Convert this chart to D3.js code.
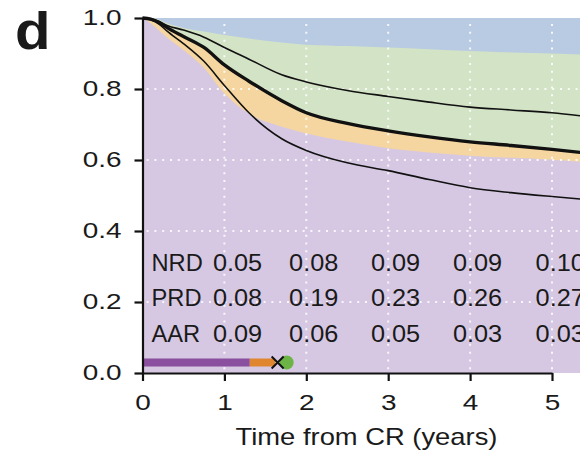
<!DOCTYPE html>
<html>
<head>
<meta charset="utf-8">
<script src="https://cdn.jsdelivr.net/npm/d3@7"></script>
<style>
  body { margin: 0; background: #fff; }
  text { font-family: "Liberation Sans", Arial, Helvetica, sans-serif; fill: #1a1a1a; }
</style>
</head>
<body>
<div id="vis"></div>
<script>
//###############################################################
// Stacked state probabilities after CR (panel d)
//###############################################################
const FRAME_WIDTH = 580;
const FRAME_HEIGHT = 454;

// time points (years from CR)
const TIMES = [0, 0.1, 0.2, 0.3, 0.5, 0.75, 1, 1.3, 1.7, 2, 2.5, 3, 3.5, 4, 4.5, 5, 5.4];

// boundary between blue (top) and green bands
const BLUE_GREEN = [1.0, 1.0, 0.995, 0.985, 0.972, 0.962, 0.952, 0.942, 0.931, 0.925, 0.921, 0.917, 0.912, 0.907, 0.903, 0.900, 0.897];
// thick black curve = boundary between green and orange
const THICK_LINE = [1.0, 0.997, 0.988, 0.973, 0.948, 0.917, 0.868, 0.822, 0.767, 0.733, 0.703, 0.682, 0.665, 0.651, 0.641, 0.630, 0.620];
// boundary between orange and purple
const ORANGE_PURPLE = [1.0, 0.985, 0.965, 0.945, 0.91, 0.86, 0.787, 0.73, 0.694, 0.675, 0.652, 0.633, 0.621, 0.612, 0.606, 0.601, 0.594];
// thin upper curve
const THIN_UPPER = [1.0, 0.998, 0.99, 0.979, 0.966, 0.946, 0.917, 0.884, 0.84, 0.82, 0.796, 0.779, 0.763, 0.749, 0.741, 0.733, 0.723];
// thin lower curve
const THIN_LOWER = [1.0, 0.995, 0.983, 0.963, 0.928, 0.878, 0.81, 0.733, 0.66, 0.627, 0.592, 0.57, 0.545, 0.522, 0.508, 0.497, 0.489];

// table printed inside the plot
const ROW_LABELS = ["NRD", "PRD", "AAR"];
const NRD = [0.05, 0.08, 0.09, 0.09, 0.10];
const PRD = [0.08, 0.19, 0.23, 0.26, 0.27];
const AAR = [0.09, 0.06, 0.05, 0.03, 0.03];

const X_TICKS = [0, 1, 2, 3, 4, 5];
const Y_TICKS = [0, 0.2, 0.4, 0.6, 0.8, 1.0];
const GRID_X = [1, 2, 3, 4, 5];
const GRID_Y = [0.2, 0.4, 0.6, 0.8];

// timeline at the bottom (years): purple segment end, orange segment end, cross, dot
const TL_PURPLE_END = 1.31;
const TL_ORANGE_END = 1.62;
const TL_CROSS = 1.65;
const TL_DOT = 1.76;

const COLORS = {
  blue: "#b9cbe3",
  green: "#d3e3c6",
  orange: "#f5d6a1",
  purple: "#d6c8e3",
  barPurple: "#8a4f9e",
  barOrange: "#e0862e",
  dot: "#6cb445"
};

const FRAME = d3.select("#vis")
  .append("svg")
    .attr("width", FRAME_WIDTH)
    .attr("height", FRAME_HEIGHT);

const X_SCALE = d3.scaleLinear().domain([0, 5]).range([142.5, 552]);
const Y_SCALE = d3.scaleLinear().domain([0, 1]).range([373, 18]);

// helper: text that is a bit wider than the font draws it
function wideText(parent, x, y, str, size, sx, anchor, weight) {
  return parent.append("text")
    .attr("transform", `translate(${x},${y}) scale(${sx},1)`)
    .attr("text-anchor", anchor || "start")
    .attr("font-size", size + "px")
    .attr("font-weight", weight || "normal")
    .text(str);
}

const rows = TIMES.map((t, i) => ({
  t: t, bg: BLUE_GREEN[i], thick: THICK_LINE[i], op: ORANGE_PURPLE[i],
  up: THIN_UPPER[i], low: THIN_LOWER[i]
}));

function band(key) {
  return d3.area()
    .x(d => X_SCALE(d.t))
    .y0(Y_SCALE(0))
    .y1(d => (key == null ? Y_SCALE(1) : Y_SCALE(d[key])))
    .curve(d3.curveMonotoneX);
}

// stacked bands, drawn from the back
FRAME.append("path").datum(rows).attr("d", band(null)).attr("fill", COLORS.blue);
FRAME.append("path").datum(rows).attr("d", band("bg")).attr("fill", COLORS.green);
FRAME.append("path").datum(rows).attr("d", band("thick")).attr("fill", COLORS.orange);
FRAME.append("path").datum(rows).attr("d", band("op")).attr("fill", COLORS.purple);

// dotted white grid
const grid = FRAME.append("g")
  .attr("stroke", "#ffffff")
  .attr("stroke-opacity", 0.85)
  .attr("stroke-width", 2)
  .attr("stroke-dasharray", "2,5.8");

grid.selectAll(".gx").data(GRID_X).enter().append("line")
  .attr("x1", d => X_SCALE(d)).attr("x2", d => X_SCALE(d))
  .attr("y1", Y_SCALE(0.983)).attr("y2", Y_SCALE(0.005));

grid.selectAll(".gy").data(GRID_Y).enter().append("line")
  .attr("x1", X_SCALE(0.05)).attr("x2", FRAME_WIDTH)
  .attr("y1", d => Y_SCALE(d)).attr("y2", d => Y_SCALE(d));

// black curves
function curve(key) {
  return d3.line()
    .x(d => X_SCALE(d.t))
    .y(d => Y_SCALE(d[key]))
    .curve(d3.curveMonotoneX);
}

FRAME.append("path").datum(rows).attr("d", curve("up"))
  .attr("fill", "none").attr("stroke", "#111").attr("stroke-width", 1.6);
FRAME.append("path").datum(rows).attr("d", curve("low"))
  .attr("fill", "none").attr("stroke", "#111").attr("stroke-width", 1.6);
FRAME.append("path").datum(rows).attr("d", curve("thick"))
  .attr("fill", "none").attr("stroke", "#111").attr("stroke-width", 3.4);

// timeline bar
const TL_Y = 362.5;
FRAME.append("line")
  .attr("x1", X_SCALE(0)).attr("x2", X_SCALE(TL_PURPLE_END))
  .attr("y1", TL_Y).attr("y2", TL_Y)
  .attr("stroke", COLORS.barPurple).attr("stroke-width", 8);
FRAME.append("line")
  .attr("x1", X_SCALE(TL_PURPLE_END)).attr("x2", X_SCALE(TL_ORANGE_END))
  .attr("y1", TL_Y).attr("y2", TL_Y)
  .attr("stroke", COLORS.barOrange).attr("stroke-width", 8);
FRAME.append("circle")
  .attr("cx", X_SCALE(TL_DOT)).attr("cy", TL_Y).attr("r", 7)
  .attr("fill", COLORS.dot);
const cx = X_SCALE(TL_CROSS);
FRAME.append("path")
  .attr("d", `M${cx - 6},${TL_Y - 6}L${cx + 6},${TL_Y + 6}M${cx - 6},${TL_Y + 6}L${cx + 6},${TL_Y - 6}`)
  .attr("stroke", "#111").attr("stroke-width", 2).attr("fill", "none");

// axes
const TICK_SX = 1.27;

const yAxis = FRAME.append("g")
  .attr("transform", `translate(${X_SCALE(0)},0)`)
  .call(d3.axisLeft(Y_SCALE).tickValues(Y_TICKS).tickFormat(d3.format(".1f"))
    .tickSize(8).tickSizeOuter(0));

const xAxis = FRAME.append("g")
  .attr("transform", `translate(0,${Y_SCALE(0)})`)
  .call(d3.axisBottom(X_SCALE).tickValues(X_TICKS).tickFormat(d3.format("d"))
    .tickSize(8).tickSizeOuter(0));

[yAxis, xAxis].forEach(ax => {
  ax.select(".domain").attr("stroke", "#111").attr("stroke-width", 2.2);
  ax.selectAll(".tick line").attr("stroke", "#111").attr("stroke-width", 2.2);
  ax.selectAll(".tick text")
    .attr("font-family", '"Liberation Sans", Arial, sans-serif')
    .attr("font-size", 22)
    .attr("fill", "#1a1a1a");
});

yAxis.selectAll(".tick text")
  .attr("x", -21 / TICK_SX)
  .attr("dy", "0.31em")
  .attr("transform", `scale(${TICK_SX},1)`);

xAxis.selectAll(".tick text")
  .attr("y", 21.5)
  .attr("dy", "0.71em")
  .attr("transform", `scale(${TICK_SX},1)`);

// table of probabilities
const TABLE_COLS = [1.16, 2.09, 3.09, 4.09, 5.1];
const TABLE_BASE = [270.5, 306, 341.5];
[NRD, PRD, AAR].forEach((vals, r) => {
  wideText(FRAME, 151.5, TABLE_BASE[r], ROW_LABELS[r], 23, 1.03, "start");
  vals.forEach((v, i) => {
    wideText(FRAME, X_SCALE(TABLE_COLS[i]), TABLE_BASE[r], d3.format(".2f")(v), 23, 1.1, "middle");
  });
});

// axis title and panel letter
wideText(FRAME, 366.5, 445, "Time from CR (years)", 23, 1.19, "middle");
wideText(FRAME, 15, 49, "d", 52, 1.12, "start", "bold").attr("fill", "#000");
</script>
</body>
</html>
